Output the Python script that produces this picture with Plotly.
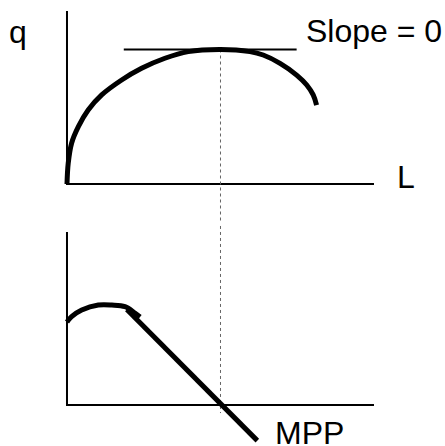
import plotly.graph_objs as go

# total product curve (L, q)
tp_L = [0, 0.04, 0.15, 0.37, 0.69, 1.13, 1.78, 2.43, 3.19, 3.95, 5.0, 5.96, 6.39, 6.94, 7.48, 7.81, 8.02, 8.13]
tp_q = [0, 1.54, 3.03, 4.26, 5.50, 6.62, 7.73, 8.60, 9.35, 9.84, 10.0, 9.84, 9.59, 8.97, 8.10, 7.36, 6.62, 5.87]

# tangent at the top of the curve
tangent_L = [1.85, 7.48]
tangent_q = [10.0, 10.0]

# marginal product: hump then straight falling part
mpp_hump_L = [0, 0.15, 0.48, 1.02, 1.46, 1.89, 2.21, 2.38]
mpp_hump = [6.17, 6.57, 7.06, 7.43, 7.43, 7.31, 6.84, 6.54]
mpp_line_L = [1.95, 6.2]
mpp_line = [7.1, -2.65]

# L where q is at its max (MPP = 0)
L_max = 5.0

# axes length in data units
axis_L = 10.0
axis_y = 12.86

font = dict(family='Liberation Sans, Arial, sans-serif', size=32, color='black')
black = 'black'

traces = []

for yref in ['y', 'y2']:
    traces.append(go.Scatter(x=[0, 0, axis_L], y=[axis_y, 0, 0], mode='lines',
                             line=dict(color=black, width=2), xaxis='x', yaxis=yref))

traces.append(go.Scatter(x=[L_max, L_max], y=[10.0, -5], mode='lines',
                         line=dict(color='#666666', width=1, dash='dot'), xaxis='x', yaxis='y'))
traces.append(go.Scatter(x=[L_max, L_max], y=[20, -0.6], mode='lines',
                         line=dict(color='#666666', width=1, dash='dot'), xaxis='x', yaxis='y2'))

traces.append(go.Scatter(x=tangent_L, y=tangent_q, mode='lines',
                         line=dict(color=black, width=2), xaxis='x', yaxis='y'))
traces.append(go.Scatter(x=tp_L, y=tp_q, mode='lines',
                         line=dict(color=black, width=5, shape='spline'), xaxis='x', yaxis='y'))

traces.append(go.Scatter(x=mpp_hump_L, y=mpp_hump, mode='lines',
                         line=dict(color=black, width=5, shape='spline'), xaxis='x', yaxis='y2'))
traces.append(go.Scatter(x=mpp_line_L, y=mpp_line, mode='lines',
                         line=dict(color=black, width=5), xaxis='x', yaxis='y2'))

annotations = [
    dict(text='q', x=-1.61, y=11.3, xref='x', yref='y', xanchor='center', yanchor='middle'),
    dict(text='Slope = 0', x=7.72, y=11.38, xref='x', yref='y', xanchor='left', yanchor='middle'),
    dict(text='L', x=10.68, y=0.5, xref='x', yref='y', xanchor='left', yanchor='middle'),
    dict(text='MPP', x=6.72, y=-2.05, xref='x', yref='y2', xanchor='left', yanchor='middle'),
]
for a in annotations:
    a.update(showarrow=False, font=font)

layout = go.Layout(
    width=445, height=446,
    margin=dict(l=0, r=0, t=0, b=0),
    paper_bgcolor='white', plot_bgcolor='white',
    showlegend=False,
    xaxis=dict(range=[-2.182, 12.313], visible=False, anchor='y2'),
    yaxis=dict(range=[-2.90, 13.68], domain=[0.5, 1], visible=False, anchor='x'),
    yaxis2=dict(range=[-3.05, 13.53], domain=[0, 0.5], visible=False, anchor='x'),
    annotations=annotations,
)

fig = go.Figure(data=traces, layout=layout)
# page body has a default 8px margin, drop it so the chart fills the window
fig.write_html("out.html", config={'displayModeBar': False},
               post_script="document.body.style.margin='0';document.body.style.overflow='hidden';")
